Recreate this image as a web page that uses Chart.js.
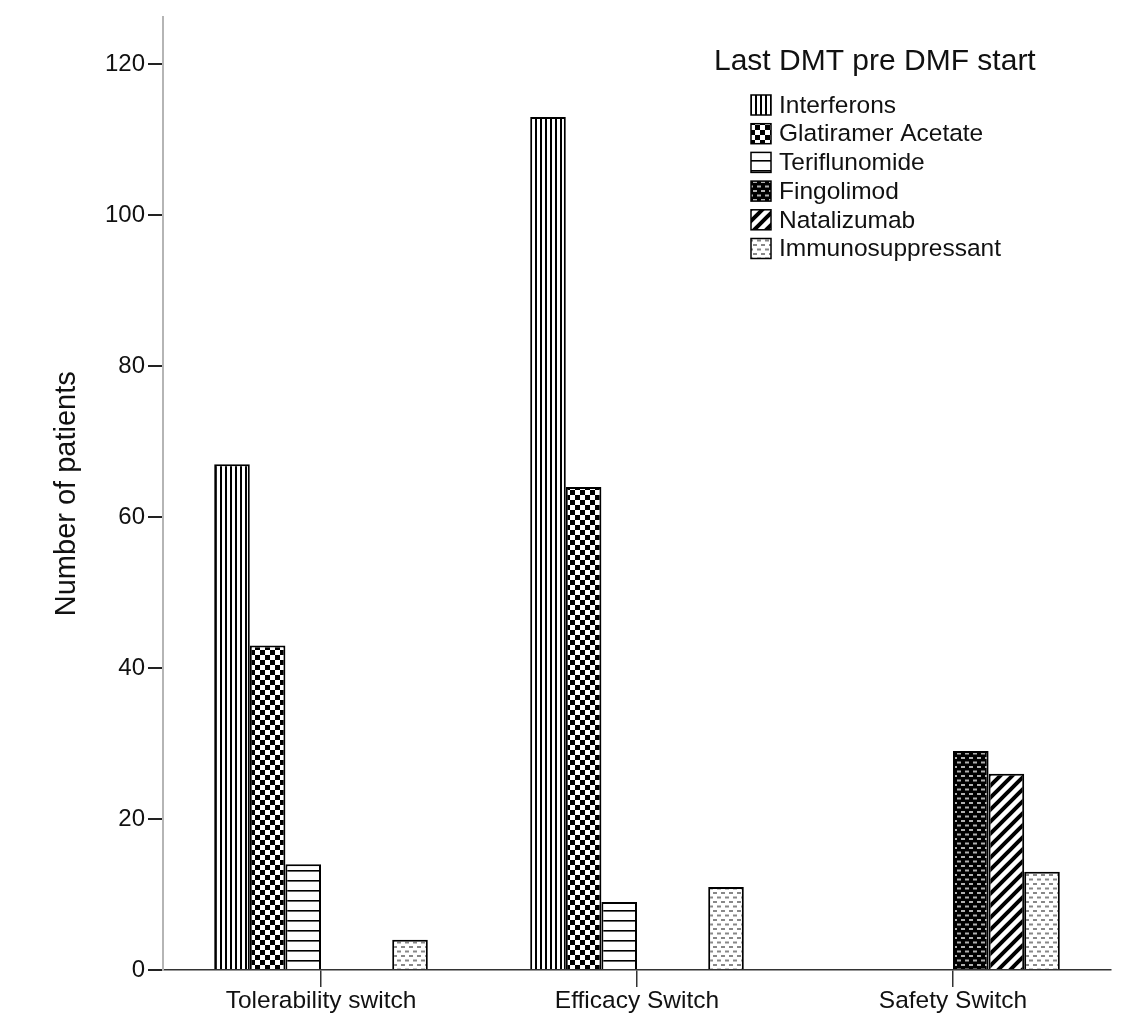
<!DOCTYPE html>
<html>
<head>
<meta charset="utf-8">
<title>Last DMT pre DMF start</title>
<script src="https://cdn.jsdelivr.net/npm/chart.js@4.4.1/dist/chart.umd.min.js"></script>
<style>
  html, body { margin: 0; padding: 0; background: #fff; }
  #chart { display: block; }
</style>
</head>
<body>
<canvas id="chart" width="1130" height="1015"></canvas>
<script>
'use strict';

// switch reason on the x axis, one bar per last treatment
const categories = ['Tolerability switch', 'Efficacy Switch', 'Safety Switch'];
const treatments = ['Interferons', 'Glatiramer Acetate', 'Teriflunomide', 'Fingolimod', 'Natalizumab', 'Immunosuppressant'];

const interferons = [67, 113, null];
const glatiramer = [43, 64, null];
const teriflunomide = [14, 9, null];
const fingolimod = [null, null, 29];
const natalizumab = [null, null, 26];
const immunosuppressant = [4, 11, 13];

const yTicks = [0, 20, 40, 60, 80, 100, 120];
const legendTitle = 'Last DMT pre DMF start';
const yTitle = 'Number of patients';

const FONT = '"Liberation Sans", Arial, sans-serif';

// small tiles used as bar fills (black & white hatching like the print figure)
function makePattern(w, h, draw) {
    const c = document.createElement('canvas');
    c.width = w;
    c.height = h;
    const g = c.getContext('2d');
    draw(g, w, h);
    return document.getElementById('chart').getContext('2d').createPattern(c, 'repeat');
}

const verticalLines = makePattern(5, 5, (g, w, h) => {
    g.fillStyle = '#fff'; g.fillRect(0, 0, w, h);
    g.fillStyle = '#000'; g.fillRect(0, 0, 2, h);
});
const checker = makePattern(10, 10, (g, w, h) => {
    g.fillStyle = '#fff'; g.fillRect(0, 0, w, h);
    g.fillStyle = '#000';
    g.fillRect(0, 0, 5, 5);
    g.fillRect(5, 5, 5, 5);
});
const horizontalLines = makePattern(10, 10, (g, w, h) => {
    g.fillStyle = '#fff'; g.fillRect(0, 0, w, h);
    g.fillStyle = '#000'; g.fillRect(0, 0, w, 1.6);
});
const darkDots = makePattern(8, 9, (g, w, h) => {
    g.fillStyle = '#000'; g.fillRect(0, 0, w, h);
    g.fillStyle = '#b0b0b0';
    g.fillRect(1, 1, 4, 2);
    g.fillRect(5, 5.5, 4, 2);
    g.fillRect(-3, 5.5, 4, 2);
});
const diagonal = makePattern(12, 12, (g, w, h) => {
    g.fillStyle = '#fff'; g.fillRect(0, 0, w, h);
    g.strokeStyle = '#000';
    g.lineWidth = 4;
    g.beginPath();
    g.moveTo(-6, 6); g.lineTo(6, -6);
    g.moveTo(0, 12); g.lineTo(12, 0);
    g.moveTo(6, 18); g.lineTo(18, 6);
    g.stroke();
});
const lightDots = makePattern(8, 9, (g, w, h) => {
    g.fillStyle = '#fff'; g.fillRect(0, 0, w, h);
    g.fillStyle = '#888';
    g.fillRect(1, 1, 4, 2);
    g.fillRect(5, 5.5, 4, 2);
    g.fillRect(-3, 5.5, 4, 2);
});

const seriesValues = [interferons, glatiramer, teriflunomide, fingolimod, natalizumab, immunosuppressant];
const fills = [verticalLines, checker, horizontalLines, darkDots, diagonal, lightDots];

const datasets = treatments.map((name, i) => ({
    label: name,
    data: seriesValues[i],
    backgroundColor: fills[i],
    borderColor: '#000',
    borderWidth: 2,
    categoryPercentage: 0.676,
    barPercentage: 1.0
}));

// legend drawn by hand inside the plot, top right
const patternLegend = {
    id: 'patternLegend',
    afterDraw(chart) {
        const ctx = chart.ctx;
        ctx.save();
        ctx.textBaseline = 'middle';
        ctx.textAlign = 'left';
        ctx.fillStyle = '#111';
        ctx.font = '30px ' + FONT;
        ctx.fillText(legendTitle, 714, 62);
        ctx.font = '24.5px ' + FONT;
        chart.data.datasets.forEach((ds, i) => {
            const y = 105 + i * 28.7;
            ctx.fillStyle = ds.backgroundColor;
            ctx.fillRect(751, y - 10, 20, 20);
            ctx.strokeStyle = '#000';
            ctx.lineWidth = 1.5;
            ctx.strokeRect(751, y - 10, 20, 20);
            ctx.fillStyle = '#111';
            ctx.fillText(ds.label, 779, y + 1);
        });
        ctx.restore();
    }
};

new Chart(document.getElementById('chart'), {
    type: 'bar',
    data: {
        labels: categories,
        datasets: datasets
    },
    options: {
        responsive: false,
        animation: false,
        layout: {
            padding: { top: 15, right: 19, left: 0, bottom: 0 }
        },
        plugins: {
            legend: { display: false },
            tooltip: { enabled: false }
        },
        scales: {
            x: {
                afterFit(scale) { scale.height = 45; },
                grid: {
                    offset: false,
                    drawOnChartArea: false,
                    drawTicks: true,
                    tickLength: 17,
                    color: '#333',
                    lineWidth: 1.5
                },
                border: { color: '#333', width: 1.5 },
                ticks: {
                    color: '#111',
                    padding: 0,
                    font: { family: FONT, size: 24.5 }
                }
            },
            y: {
                min: 0,
                max: 126.2,
                afterFit(scale) { scale.width = 163; },
                afterBuildTicks(scale) {
                    scale.ticks = yTicks.map(v => ({ value: v }));
                },
                grid: {
                    drawOnChartArea: false,
                    drawTicks: true,
                    tickLength: 15,
                    color: '#222',
                    lineWidth: 2
                },
                border: { color: '#b5b5b5', width: 2 },
                ticks: {
                    color: '#111',
                    padding: 3,
                    font: { family: FONT, size: 24 }
                },
                title: {
                    display: true,
                    text: yTitle,
                    color: '#111',
                    padding: { top: 50, bottom: 0 },
                    font: { family: FONT, size: 29 }
                }
            }
        }
    },
    plugins: [patternLegend]
});
</script>
</body>
</html>
